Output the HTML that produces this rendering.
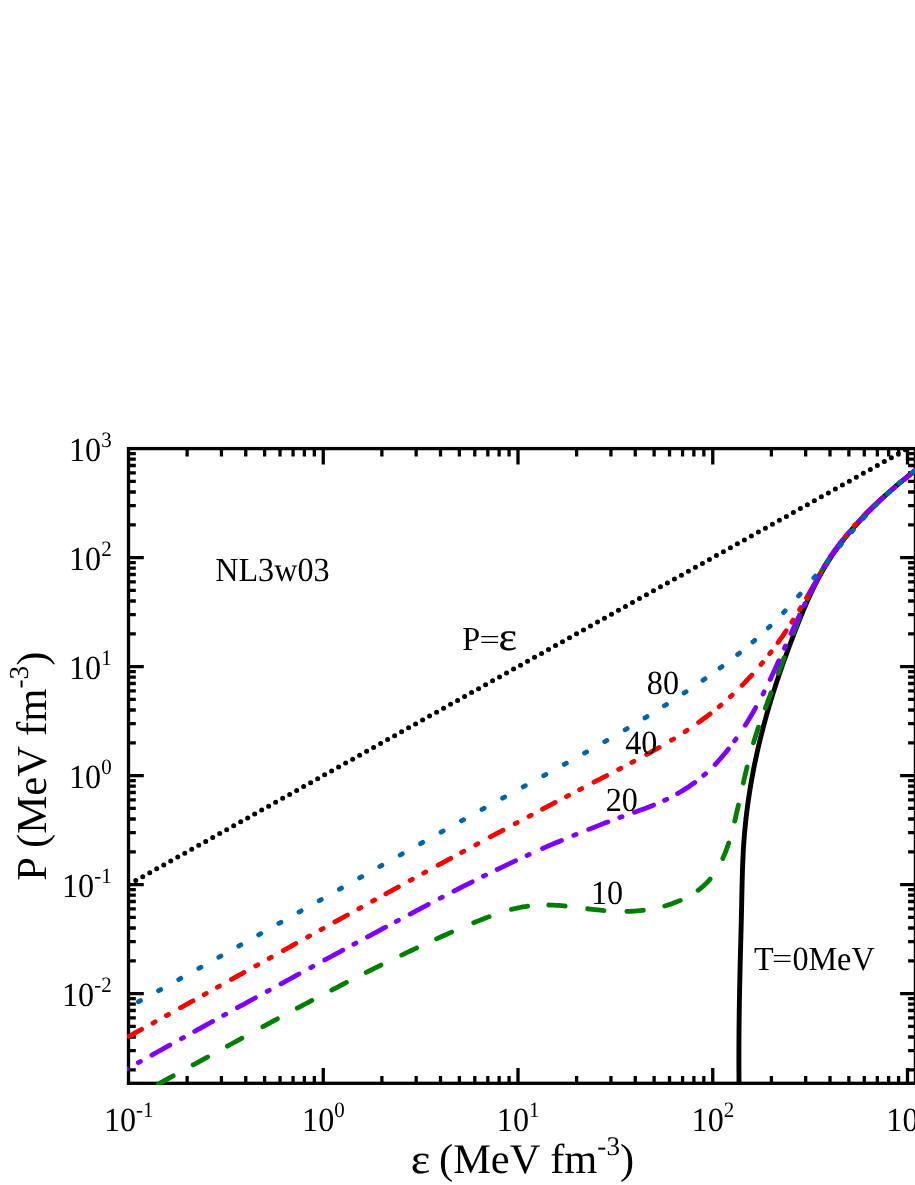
<!DOCTYPE html>
<html><head><meta charset="utf-8"><title>P vs epsilon</title>
<style>html,body{margin:0;padding:0;background:#fff}body{width:915px;height:1185px;overflow:hidden;position:relative;font-family:"Liberation Serif",serif}</style>
</head><body>
<svg width="915" height="1185" viewBox="0 0 915 1185" style="position:absolute;left:0;top:0;display:block;will-change:transform;text-rendering:geometricPrecision">
<rect width="915" height="1185" fill="#fff"/>
<defs><clipPath id="c"><rect x="126.90" y="447.00" width="790.10" height="637.90"/></clipPath></defs>
<g stroke="#000" fill="none" stroke-linecap="butt">
<rect x="128.50" y="448.60" width="786.90" height="634.70" stroke-width="3.30"/>
<path d="M187.13 1083.30v-7.30M187.13 448.60v7.90M221.42 1083.30v-7.30M221.42 448.60v7.90M245.75 1083.30v-7.30M245.75 448.60v7.90M264.62 1083.30v-7.30M264.62 448.60v7.90M280.04 1083.30v-7.30M280.04 448.60v7.90M293.08 1083.30v-7.30M293.08 448.60v7.90M304.38 1083.30v-7.30M304.38 448.60v7.90M314.34 1083.30v-7.30M314.34 448.60v7.90M323.25 1083.30v-15.30M323.25 448.60v15.90M381.88 1083.30v-7.30M381.88 448.60v7.90M416.17 1083.30v-7.30M416.17 448.60v7.90M440.50 1083.30v-7.30M440.50 448.60v7.90M459.37 1083.30v-7.30M459.37 448.60v7.90M474.79 1083.30v-7.30M474.79 448.60v7.90M487.83 1083.30v-7.30M487.83 448.60v7.90M499.13 1083.30v-7.30M499.13 448.60v7.90M509.09 1083.30v-7.30M509.09 448.60v7.90M518.00 1083.30v-15.30M518.00 448.60v15.90M576.63 1083.30v-7.30M576.63 448.60v7.90M610.92 1083.30v-7.30M610.92 448.60v7.90M635.25 1083.30v-7.30M635.25 448.60v7.90M654.12 1083.30v-7.30M654.12 448.60v7.90M669.54 1083.30v-7.30M669.54 448.60v7.90M682.58 1083.30v-7.30M682.58 448.60v7.90M693.88 1083.30v-7.30M693.88 448.60v7.90M703.84 1083.30v-7.30M703.84 448.60v7.90M712.75 1083.30v-15.30M712.75 448.60v15.90M771.38 1083.30v-7.30M771.38 448.60v7.90M805.67 1083.30v-7.30M805.67 448.60v7.90M830.00 1083.30v-7.30M830.00 448.60v7.90M848.87 1083.30v-7.30M848.87 448.60v7.90M864.29 1083.30v-7.30M864.29 448.60v7.90M877.33 1083.30v-7.30M877.33 448.60v7.90M888.63 1083.30v-7.30M888.63 448.60v7.90M898.59 1083.30v-7.30M898.59 448.60v7.90M907.50 1083.30v-15.30M907.50 448.60v15.90M128.50 1069.79h7.30M915.40 1069.79h-7.30M128.50 1050.59h7.30M915.40 1050.59h-7.30M128.50 1036.98h7.30M915.40 1036.98h-7.30M128.50 1026.41h7.30M915.40 1026.41h-7.30M128.50 1017.78h7.30M915.40 1017.78h-7.30M128.50 1010.48h7.30M915.40 1010.48h-7.30M128.50 1004.16h7.30M915.40 1004.16h-7.30M128.50 998.59h7.30M915.40 998.59h-7.30M128.50 993.60h15.30M915.40 993.60h-15.30M128.50 960.79h7.30M915.40 960.79h-7.30M128.50 941.59h7.30M915.40 941.59h-7.30M128.50 927.98h7.30M915.40 927.98h-7.30M128.50 917.41h7.30M915.40 917.41h-7.30M128.50 908.78h7.30M915.40 908.78h-7.30M128.50 901.48h7.30M915.40 901.48h-7.30M128.50 895.16h7.30M915.40 895.16h-7.30M128.50 889.59h7.30M915.40 889.59h-7.30M128.50 884.60h15.30M915.40 884.60h-15.30M128.50 851.79h7.30M915.40 851.79h-7.30M128.50 832.59h7.30M915.40 832.59h-7.30M128.50 818.98h7.30M915.40 818.98h-7.30M128.50 808.41h7.30M915.40 808.41h-7.30M128.50 799.78h7.30M915.40 799.78h-7.30M128.50 792.48h7.30M915.40 792.48h-7.30M128.50 786.16h7.30M915.40 786.16h-7.30M128.50 780.59h7.30M915.40 780.59h-7.30M128.50 775.60h15.30M915.40 775.60h-15.30M128.50 742.79h7.30M915.40 742.79h-7.30M128.50 723.59h7.30M915.40 723.59h-7.30M128.50 709.98h7.30M915.40 709.98h-7.30M128.50 699.41h7.30M915.40 699.41h-7.30M128.50 690.78h7.30M915.40 690.78h-7.30M128.50 683.48h7.30M915.40 683.48h-7.30M128.50 677.16h7.30M915.40 677.16h-7.30M128.50 671.59h7.30M915.40 671.59h-7.30M128.50 666.60h15.30M915.40 666.60h-15.30M128.50 633.79h7.30M915.40 633.79h-7.30M128.50 614.59h7.30M915.40 614.59h-7.30M128.50 600.98h7.30M915.40 600.98h-7.30M128.50 590.41h7.30M915.40 590.41h-7.30M128.50 581.78h7.30M915.40 581.78h-7.30M128.50 574.48h7.30M915.40 574.48h-7.30M128.50 568.16h7.30M915.40 568.16h-7.30M128.50 562.59h7.30M915.40 562.59h-7.30M128.50 557.60h15.30M915.40 557.60h-15.30M128.50 524.79h7.30M915.40 524.79h-7.30M128.50 505.59h7.30M915.40 505.59h-7.30M128.50 491.98h7.30M915.40 491.98h-7.30M128.50 481.41h7.30M915.40 481.41h-7.30M128.50 472.78h7.30M915.40 472.78h-7.30M128.50 465.48h7.30M915.40 465.48h-7.30M128.50 459.16h7.30M915.40 459.16h-7.30M128.50 453.59h7.30M915.40 453.59h-7.30" stroke-width="3.30"/>
</g>
<g clip-path="url(#c)" fill="none" stroke-linecap="round" stroke-linejoin="round">
<path d="M128.75 884.46h0.01M135.75 880.54h0.01M142.75 876.63h0.01M149.74 872.71h0.01M156.74 868.80h0.01M163.73 864.88h0.01M170.73 860.96h0.01M177.73 857.05h0.01M184.72 853.13h0.01M191.72 849.22h0.01M198.71 845.30h0.01M205.71 841.39h0.01M212.71 837.47h0.01M219.70 833.55h0.01M226.70 829.64h0.01M233.69 825.72h0.01M240.69 821.81h0.01M247.69 817.89h0.01M254.68 813.98h0.01M261.68 810.06h0.01M268.67 806.15h0.01M275.67 802.23h0.01M282.67 798.31h0.01M289.66 794.40h0.01M296.66 790.48h0.01M303.65 786.57h0.01M310.65 782.65h0.01M317.65 778.74h0.01M324.64 774.82h0.01M331.64 770.91h0.01M338.63 766.99h0.01M345.63 763.07h0.01M352.63 759.16h0.01M359.62 755.24h0.01M366.62 751.33h0.01M373.61 747.41h0.01M380.61 743.50h0.01M387.61 739.58h0.01M394.60 735.66h0.01M401.60 731.75h0.01M408.59 727.83h0.01M415.59 723.92h0.01M422.59 720.00h0.01M429.58 716.09h0.01M436.58 712.17h0.01M443.57 708.26h0.01M450.57 704.34h0.01M457.57 700.42h0.01M464.56 696.51h0.01M471.56 692.59h0.01M478.55 688.68h0.01M485.55 684.76h0.01M492.55 680.85h0.01M499.54 676.93h0.01M506.54 673.02h0.01M513.53 669.10h0.01M520.53 665.18h0.01M527.53 661.27h0.01M534.52 657.35h0.01M541.52 653.44h0.01M548.51 649.52h0.01M555.51 645.61h0.01M562.51 641.69h0.01M569.50 637.77h0.01M576.50 633.86h0.01M583.49 629.94h0.01M590.49 626.03h0.01M597.49 622.11h0.01M604.48 618.20h0.01M611.48 614.28h0.01M618.47 610.37h0.01M625.47 606.45h0.01M632.47 602.53h0.01M639.46 598.62h0.01M646.46 594.70h0.01M653.45 590.79h0.01M660.45 586.87h0.01M667.45 582.96h0.01M674.44 579.04h0.01M681.44 575.13h0.01M688.43 571.21h0.01M695.43 567.29h0.01M702.43 563.38h0.01M709.42 559.46h0.01M716.42 555.55h0.01M723.41 551.63h0.01M730.41 547.72h0.01M737.41 543.80h0.01M744.40 539.88h0.01M751.40 535.97h0.01M758.39 532.05h0.01M765.39 528.14h0.01M772.39 524.22h0.01M779.38 520.31h0.01M786.38 516.39h0.01M793.37 512.48h0.01M800.37 508.56h0.01M807.37 504.64h0.01M814.36 500.73h0.01M821.36 496.81h0.01M828.35 492.90h0.01M835.35 488.98h0.01M842.35 485.07h0.01M849.34 481.15h0.01M856.34 477.23h0.01M863.33 473.32h0.01M870.33 469.40h0.01M877.33 465.49h0.01M884.32 461.57h0.01M891.32 457.66h0.01M898.31 453.74h0.01M905.31 449.83h0.01M912.31 445.91h0.01M919.30 441.99h0.01" stroke="#000" stroke-width="5.00"/>
<path d="M739.10 1089.92L739.08 1088.58L739.07 1087.24L739.05 1085.89L739.04 1084.55L739.03 1083.21L739.01 1081.86L739.00 1080.52L738.99 1079.18L738.98 1077.83L738.97 1076.49L738.96 1075.14L738.96 1073.80L738.95 1072.45L738.94 1071.11L738.94 1069.76L738.93 1068.41L738.93 1067.07L738.92 1065.72L738.92 1064.37L738.92 1063.03L738.91 1061.68L738.91 1060.33L738.91 1058.98L738.91 1057.64L738.91 1056.29L738.91 1054.94L738.91 1053.59L738.92 1052.24L738.92 1050.89L738.92 1049.54L738.93 1048.19L738.93 1046.84L738.94 1045.49L738.94 1044.14L738.95 1042.79L738.96 1041.44L738.96 1040.09L738.97 1038.74L738.98 1037.39L738.99 1036.03L739.00 1034.68L739.01 1033.33L739.02 1031.98L739.03 1030.63L739.04 1029.27L739.06 1027.92L739.07 1026.57L739.08 1025.21L739.10 1023.86L739.11 1022.51L739.13 1021.15L739.14 1019.80L739.16 1018.45L739.18 1017.09L739.19 1015.74L739.21 1014.39L739.23 1013.03L739.25 1011.68L739.27 1010.32L739.29 1008.97L739.31 1007.61L739.33 1006.26L739.35 1004.90L739.37 1003.55L739.39 1002.19L739.41 1000.84L739.44 999.48L739.46 998.13L739.48 996.77L739.51 995.41L739.53 994.06L739.56 992.70L739.58 991.35L739.61 989.99L739.63 988.63L739.66 987.28L739.69 985.92L739.71 984.57L739.74 983.21L739.77 981.85L739.80 980.50L739.83 979.14L739.86 977.78L739.89 976.43L739.92 975.07L739.95 973.71L739.98 972.36L740.01 971.00L740.04 969.64L740.07 968.29L740.10 966.93L740.14 965.57L740.17 964.21L740.20 962.86L740.23 961.50L740.27 960.14L740.30 958.79L740.34 957.43L740.37 956.07L740.41 954.72L740.44 953.36L740.48 952.00L740.51 950.64L740.55 949.29L740.58 947.93L740.62 946.57L740.65 945.22L740.69 943.86L740.73 942.50L740.76 941.15L740.80 939.79L740.83 938.43L740.87 937.08L740.90 935.72L740.94 934.36L740.97 933.01L741.01 931.65L741.05 930.29L741.08 928.94L741.11 927.58L741.15 926.22L741.18 924.87L741.22 923.51L741.25 922.16L741.28 920.80L741.32 919.44L741.35 918.09L741.38 916.73L741.41 915.38L741.44 914.02L741.48 912.67L741.51 911.31L741.54 909.96L741.56 908.60L741.59 907.25L741.62 905.89L741.65 904.54L741.68 903.18L741.71 901.83L741.73 900.47L741.76 899.12L741.79 897.77L741.81 896.41L741.84 895.06L741.87 893.70L741.90 892.35L741.93 891.00L741.96 889.64L741.99 888.29L742.02 886.94L742.05 885.59L742.08 884.23L742.11 882.88L742.15 881.53L742.18 880.18L742.22 878.83L742.25 877.47L742.29 876.12L742.33 874.77L742.37 873.42L742.41 872.07L742.46 870.72L742.50 869.37L742.55 868.02L742.60 866.67L742.65 865.32L742.70 863.97L742.75 862.62L742.81 861.27L742.87 859.92L742.93 858.57L742.99 857.23L743.05 855.88L743.12 854.53L743.19 853.18L743.26 851.83L743.34 850.49L743.41 849.14L743.49 847.79L743.58 846.45L743.66 845.10L743.75 843.76L743.84 842.41L743.94 841.06L744.04 839.72L744.14 838.37L744.24 837.03L744.35 835.69L744.46 834.34L744.58 833.00L744.69 831.66L744.81 830.31L744.94 828.97L745.06 827.63L745.19 826.28L745.33 824.94L745.46 823.60L745.60 822.26L745.75 820.92L745.89 819.58L746.04 818.24L746.19 816.90L746.35 815.56L746.51 814.22L746.67 812.88L746.83 811.54L747.00 810.20L747.17 808.87L747.35 807.53L747.52 806.19L747.70 804.86L747.88 803.52L748.07 802.18L748.26 800.85L748.45 799.51L748.65 798.18L748.84 796.84L749.05 795.51L749.25 794.17L749.46 792.84L749.67 791.51L749.88 790.17L750.09 788.84L750.31 787.51L750.53 786.18L750.76 784.85L750.98 783.52L751.22 782.19L751.45 780.86L751.68 779.53L751.92 778.20L752.16 776.87L752.41 775.54L752.66 774.21L752.91 772.89L753.16 771.56L753.42 770.23L753.67 768.91L753.94 767.58L754.20 766.26L754.47 764.93L754.74 763.61L755.01 762.29L755.28 760.96L755.56 759.64L755.84 758.32L756.13 757.00L756.41 755.67L756.70 754.35L756.99 753.03L757.29 751.71L757.58 750.39L757.88 749.07L758.19 747.76L758.49 746.44L758.80 745.12L759.11 743.80L759.42 742.49L759.74 741.17L760.06 739.86L760.38 738.54L760.70 737.23L761.03 735.91L761.36 734.60L761.69 733.29L762.02 731.97L762.36 730.66L762.70 729.35L763.04 728.04L763.38 726.73L763.73 725.42L764.08 724.11L764.43 722.80L764.78 721.50L765.14 720.19L765.50 718.88L765.86 717.58L766.23 716.27L766.59 714.97L766.96 713.66L767.33 712.36L767.71 711.05L768.08 709.75L768.46 708.45L768.84 707.15L769.23 705.85L769.61 704.55L770.00 703.25L770.39 701.95L770.79 700.65L771.18 699.35L771.58 698.05L771.98 696.76L772.38 695.46L772.79 694.17L773.19 692.87L773.60 691.58L774.02 690.28L774.43 688.99L774.85 687.70L775.26 686.41L775.68 685.12L776.11 683.82L776.53 682.53L776.96 681.25L777.39 679.96L777.82 678.67L778.25 677.38L778.68 676.10L779.12 674.81L779.56 673.52L780.00 672.24L780.44 670.96L780.89 669.67L781.33 668.39L781.78 667.11L782.23 665.83L782.68 664.55L783.13 663.26L783.59 661.99L784.04 660.71L784.50 659.43L784.96 658.15L785.42 656.87L785.89 655.60L786.35 654.32L786.81 653.05L787.28 651.77L787.75 650.50L788.22 649.23L788.69 647.95L789.16 646.68L789.64 645.41L790.11 644.14L790.59 642.87L791.07 641.60L791.55 640.33L792.03 639.07L792.51 637.80L792.99 636.53L793.48 635.27L793.96 634.00L794.45 632.74L794.94 631.47L795.43 630.21L795.92 628.95L796.41 627.69L796.90 626.43L797.39 625.17L797.89 623.91L798.39 622.65L798.89 621.39L799.39 620.14L799.89 618.88L800.39 617.63L800.90 616.38L801.41 615.13L801.92 613.88L802.44 612.63L802.96 611.39L803.48 610.14L804.00 608.90L804.52 607.66L805.05 606.42L805.59 605.18L806.12 603.94L806.66 602.71L807.20 601.48L807.75 600.25L808.30 599.02L808.85 597.79L809.41 596.57L809.97 595.34L810.53 594.12L811.10 592.91L811.68 591.69L812.25 590.48L812.84 589.27L813.42 588.06L814.01 586.85L814.61 585.65L815.21 584.45L815.82 583.25L816.43 582.06L817.04 580.87L817.67 579.68L818.29 578.49L818.93 577.31L819.56 576.13L820.21 574.95L820.86 573.77L821.51 572.60L822.17 571.44L822.84 570.27L823.52 569.11L824.20 567.95L824.88 566.80L825.58 565.65L826.28 564.50L826.98 563.36L827.70 562.21L828.41 561.08L829.14 559.94L829.87 558.82L830.61 557.69L831.35 556.57L832.10 555.45L832.86 554.33L833.62 553.22L834.39 552.11L835.17 551.01L835.95 549.90L836.73 548.81L837.52 547.71L838.32 546.62L839.13 545.53L839.93 544.45L840.75 543.37L841.57 542.29L842.39 541.22L843.22 540.15L844.06 539.08L844.90 538.02L845.74 536.96L846.59 535.91L847.45 534.85L848.31 533.81L849.17 532.76L850.04 531.72L850.92 530.68L851.80 529.65L852.68 528.62L853.57 527.59L854.47 526.56L855.36 525.54L856.26 524.53L857.17 523.51L858.08 522.50L859.00 521.50L859.92 520.49L860.84 519.50L861.77 518.50L862.70 517.51L863.63 516.52L864.57 515.53L865.51 514.55L866.46 513.57L867.41 512.60L868.36 511.63L869.32 510.66L870.28 509.70L871.24 508.74L872.21 507.78L873.18 506.83L874.15 505.88L875.13 504.93L876.11 503.99L877.09 503.05L878.08 502.11L879.07 501.18L880.06 500.25L881.05 499.32L882.05 498.40L883.05 497.48L884.05 496.57L885.06 495.66L886.07 494.75L887.08 493.84L888.09 492.94L889.10 492.05L890.12 491.15L891.14 490.26L892.16 489.37L893.18 488.49L894.21 487.60L895.24 486.73L896.27 485.85L897.30 484.98L898.33 484.11L899.36 483.24L900.40 482.38L901.44 481.52L902.48 480.66L903.52 479.81L904.56 478.96L905.60 478.11L906.65 477.26L907.69 476.42L908.74 475.58L909.79 474.75L910.84 473.91L911.89 473.08L912.94 472.26L913.99 471.43L915.05 470.61L916.10 469.79L917.15 468.97L918.21 468.16L919.26 467.35" stroke="#000" stroke-width="4.90"/>
<path d="M158.76 1083.76L160.91 1082.59L163.16 1081.36L165.41 1080.14L167.66 1078.91L169.91 1077.68L172.16 1076.45L173.24 1075.86M193.14 1064.95L195.25 1063.79L197.49 1062.56L199.73 1061.33L201.98 1060.10L204.22 1058.86L206.46 1057.63L207.61 1057.00M227.39 1046.14L229.50 1044.98L231.74 1043.75L233.98 1042.52L236.22 1041.30L238.46 1040.07L240.70 1038.84L241.86 1038.21M262.91 1026.73L265.03 1025.57L267.27 1024.36L269.52 1023.14L271.76 1021.93L274.01 1020.71L276.25 1019.50L277.42 1018.87M297.24 1008.23L299.37 1007.09L301.63 1005.89L303.88 1004.69L306.13 1003.50L308.39 1002.30L310.64 1001.11L311.81 1000.49M331.75 990.05L333.90 988.93L336.16 987.76L338.43 986.59L340.70 985.42L342.97 984.25L345.24 983.09L346.42 982.48M366.20 972.46L368.36 971.38L370.64 970.24L372.93 969.10L375.22 967.97L377.52 966.83L379.81 965.70L380.98 965.12M401.67 955.09L403.83 954.05L406.14 952.95L408.46 951.86L410.78 950.76L413.10 949.67L415.42 948.58L416.59 948.03M436.59 938.83L438.75 937.86L441.10 936.80L443.44 935.75L445.79 934.70L448.14 933.66L450.50 932.62L451.66 932.11M473.71 922.72L475.90 921.83L478.29 920.87L480.68 919.91L483.08 918.97L485.48 918.04L487.88 917.12L489.06 916.67M511.45 909.41L514.23 908.71L517.03 908.07L519.84 907.49L522.65 906.97L525.47 906.52L527.62 906.22M548.69 905.02L551.15 905.07L553.68 905.16L556.21 905.29L558.75 905.45L561.29 905.65L563.84 905.88L565.16 906.01M587.61 908.75L589.90 909.03L592.48 909.35L595.06 909.65L597.64 909.93L600.23 910.19L602.81 910.43L604.01 910.54M626.87 911.40L629.27 911.34L631.83 911.24L634.38 911.10L636.93 910.92L639.47 910.70L642.00 910.44L643.32 910.28M664.77 905.96L667.01 905.30L669.47 904.51L671.92 903.68L674.37 902.79L676.80 901.85L679.21 900.85L680.29 900.38M698.07 890.32L700.03 888.84L702.00 887.23L703.91 885.56L705.74 883.83L707.50 882.03L709.19 880.18L710.12 879.10M722.81 858.43L723.77 856.25L724.76 853.88L725.71 851.50L726.62 849.09L727.49 846.67L728.32 844.23L728.71 843.03M734.73 821.12L735.27 818.86L735.85 816.33L736.43 813.81L737.00 811.29L737.57 808.77L738.13 806.25L738.40 805.04M743.32 782.95L743.86 780.57L744.42 778.09L745.00 775.62L745.58 773.14L746.16 770.67L746.75 768.21L747.07 766.89M753.49 742.85L754.19 740.53L754.93 738.09L755.69 735.66L756.47 733.23L757.27 730.80L758.09 728.37L758.51 727.13M765.33 708.13L766.15 705.90L767.05 703.49L767.94 701.09L768.84 698.68L769.73 696.27L770.62 693.87L771.07 692.66M778.27 673.20L779.11 670.93L780.00 668.54L780.89 666.15L781.78 663.76L782.67 661.37L783.56 658.98L784.03 657.73M793.33 633.30L794.20 631.06L795.13 628.68L796.07 626.30L797.01 623.92L797.96 621.54L798.91 619.16L799.40 617.96M807.44 598.97L810.66 591.96L814.17 584.74L817.86 577.61L821.75 570.61L825.87 563.74L830.23 557.01L830.90 556.03M843.34 539.25L843.68 538.83L844.14 538.26L844.60 537.70L845.06 537.13L845.53 536.57L845.87 536.15M887.12 494.12L887.15 494.09L887.42 493.85L887.69 493.61L887.97 493.37L888.24 493.12L888.51 492.88L888.78 492.64L889.06 492.40L889.33 492.16L889.37 492.13" stroke="#008000" stroke-width="4.80"/>
<path d="M129.14 1036.22L130.92 1035.24L132.98 1034.10L135.04 1032.96L137.09 1031.82L139.15 1030.68L141.21 1029.54L141.65 1029.30M152.98 1023.02L153.26 1022.87L153.55 1022.70L153.85 1022.54L154.14 1022.38L154.44 1022.21L154.73 1022.05L155.02 1021.89L155.08 1021.86M166.36 1015.60L166.48 1015.53L166.77 1015.37L167.06 1015.21L167.36 1015.04L167.65 1014.88L167.95 1014.72L168.24 1014.56L168.46 1014.43M180.48 1007.76L182.33 1006.73L184.38 1005.59L186.43 1004.45L188.49 1003.31L190.54 1002.16L192.59 1001.02L192.98 1000.81M204.15 994.59L204.32 994.50L204.62 994.34L204.91 994.17L205.20 994.01L205.50 993.85L205.79 993.68L206.08 993.52L206.25 993.43M217.34 987.26L217.51 987.16L217.81 987.00L218.10 986.84L218.39 986.67L218.68 986.51L218.98 986.35L219.27 986.18L219.44 986.09M231.48 979.39L233.33 978.36L235.39 977.21L237.44 976.07L239.49 974.93L241.54 973.79L243.59 972.65L243.98 972.43M255.72 965.90L255.89 965.80L256.18 965.64L256.47 965.48L256.77 965.32L257.06 965.15L257.35 964.99L257.65 964.83L257.82 964.73M269.19 958.40L269.36 958.31L269.65 958.15L269.94 957.98L270.24 957.82L270.53 957.66L270.82 957.50L271.12 957.33L271.29 957.24M283.31 950.55L285.17 949.52L287.22 948.38L289.27 947.24L291.32 946.10L293.37 944.96L295.42 943.82L295.81 943.60M307.55 937.09L307.72 936.99L308.01 936.83L308.30 936.67L308.60 936.51L308.89 936.34L309.18 936.18L309.47 936.02L309.65 935.92M321.02 929.62L321.19 929.52L321.48 929.36L321.78 929.20L322.07 929.03L322.36 928.87L322.65 928.71L322.95 928.55L323.12 928.45M334.86 921.95L336.72 920.92L338.77 919.78L340.82 918.65L342.87 917.51L344.92 916.38L346.97 915.25L347.37 915.03M358.82 908.70L358.99 908.61L359.28 908.45L359.58 908.28L359.87 908.12L360.16 907.96L360.46 907.80L360.75 907.64L360.92 907.54M372.60 901.10L372.77 901.01L373.06 900.85L373.36 900.68L373.65 900.52L373.94 900.36L374.24 900.20L374.53 900.04L374.70 899.94M385.87 893.80L387.73 892.77L389.79 891.64L391.84 890.52L393.90 889.39L395.95 888.26L398.01 887.13L398.40 886.91M410.17 880.46L410.34 880.37L410.64 880.21L410.93 880.05L411.23 879.89L411.52 879.73L411.81 879.57L412.11 879.41L412.28 879.31M423.69 873.07L423.86 872.98L424.16 872.82L424.45 872.66L424.75 872.50L425.04 872.34L425.33 872.18L425.63 872.02L425.80 871.92M438.18 865.18L440.04 864.16L442.10 863.04L444.16 861.92L446.22 860.80L448.29 859.68L450.35 858.56L450.74 858.35M461.67 852.43L461.84 852.33L462.13 852.17L462.43 852.02L462.72 851.86L463.02 851.70L463.31 851.54L463.61 851.38L463.78 851.28M475.82 844.78L475.99 844.69L476.29 844.53L476.58 844.37L476.88 844.21L477.17 844.05L477.47 843.89L477.76 843.73L477.93 843.64M490.36 836.95L492.23 835.95L494.30 834.84L496.37 833.73L498.44 832.62L500.51 831.51L502.58 830.40L502.97 830.19M515.13 823.69L515.30 823.60L515.60 823.44L515.89 823.29L516.19 823.13L516.48 822.97L516.78 822.81L517.08 822.65L517.25 822.56M529.05 816.28L529.22 816.19L529.52 816.03L529.82 815.88L530.11 815.72L530.41 815.56L530.71 815.40L531.00 815.25L531.17 815.16M542.49 809.16L544.35 808.18L546.43 807.08L548.51 805.98L550.59 804.88L552.67 803.79L554.75 802.69L555.13 802.49M566.48 796.53L566.65 796.44L566.95 796.29L567.24 796.13L567.54 795.97L567.84 795.82L568.14 795.66L568.43 795.51L568.60 795.42M579.58 789.68L579.75 789.59L580.05 789.43L580.35 789.28L580.65 789.12L580.95 788.97L581.24 788.81L581.54 788.65L581.71 788.57M594.00 782.18L595.86 781.21L597.96 780.12L600.05 779.04L602.14 777.96L604.23 776.88L606.32 775.79L606.70 775.60M618.70 769.38L618.87 769.29L619.17 769.14L619.47 768.98L619.77 768.82L620.07 768.67L620.36 768.51L620.66 768.36L620.83 768.27M631.80 762.50L631.97 762.41L632.27 762.26L632.57 762.10L632.86 761.94L633.16 761.78L633.46 761.62L633.75 761.47L633.92 761.38M646.65 754.49L648.51 753.47L650.56 752.33L652.61 751.18L654.66 750.03L656.69 748.87L658.73 747.71L659.12 747.48M671.52 740.16L671.69 740.06L671.98 739.89L672.26 739.71L672.55 739.54L672.83 739.37L673.12 739.19L673.40 739.02L673.57 738.91M685.07 731.64L685.24 731.53L685.52 731.34L685.80 731.16L686.08 730.98L686.36 730.79L686.64 730.61L686.91 730.43L687.08 730.32M698.60 722.42L700.35 721.16L702.23 719.80L704.11 718.41L705.98 717.02L707.84 715.61L709.69 714.19L710.07 713.89M719.15 706.59L719.30 706.46L719.55 706.25L719.81 706.03L720.06 705.82L720.32 705.60L720.57 705.39L720.83 705.17L720.98 705.04M730.44 696.65L730.59 696.52L730.83 696.29L731.08 696.06L731.32 695.84L731.57 695.61L731.81 695.38L732.06 695.15L732.20 695.02M742.07 685.36L743.54 683.86L745.17 682.16L746.79 680.45L748.40 678.73L750.00 677.00L751.59 675.26L751.87 674.95M760.97 664.48L761.09 664.33L761.31 664.08L761.53 663.82L761.74 663.56L761.96 663.30L762.17 663.04L762.39 662.78L762.51 662.63M769.64 653.72L769.76 653.57L769.97 653.31L770.17 653.04L770.38 652.77L770.58 652.51L770.79 652.24L770.99 651.97L771.11 651.82M777.98 642.59L779.21 640.88L780.57 638.96L781.93 637.04L783.27 635.10L784.59 633.16L785.91 631.22L786.15 630.86M791.86 622.13L791.96 621.97L792.14 621.68L792.32 621.40L792.50 621.12L792.68 620.84L792.85 620.55L793.03 620.27L793.14 620.10M799.54 609.63L799.65 609.46L799.82 609.18L799.99 608.89L800.16 608.60L800.33 608.32L800.50 608.03L800.67 607.75L800.77 607.57M806.46 597.86L807.55 595.98L808.71 593.97L809.87 591.96L811.03 589.95L812.19 587.93L813.35 585.92L813.61 585.48M819.27 575.80L819.37 575.62L819.54 575.33L819.71 575.05L819.88 574.76L820.05 574.48L820.22 574.19L820.39 573.91L820.49 573.73M825.95 564.73L826.06 564.55L826.24 564.27L826.41 563.99L826.59 563.71L826.76 563.43L826.94 563.15L827.12 562.87L827.22 562.69M833.43 553.11L834.17 552.00L835.11 550.62L836.05 549.25L837.00 547.88L837.96 546.52L838.93 545.16L839.12 544.89M845.85 535.92L845.97 535.78L846.18 535.51L846.39 535.25L846.60 534.98L846.81 534.72L847.02 534.46L847.23 534.19L847.34 534.05M854.31 525.78L854.43 525.64L854.66 525.39L854.88 525.13L855.11 524.88L855.34 524.62L855.56 524.37L855.79 524.12L855.91 523.98M863.72 515.64L866.14 513.18L868.82 510.52L871.53 507.89L874.26 505.29L877.01 502.72L879.56 500.38M915.70 470.20L915.89 470.05L916.14 469.86L916.38 469.66L916.63 469.47L916.88 469.28L917.13 469.08L917.38 468.89L917.63 468.70L917.88 468.50L918.07 468.36" stroke="#ff0000" stroke-width="4.80"/>
<path d="M117.54 1074.21L119.05 1073.37L120.56 1072.52L122.08 1071.68L123.59 1070.84L125.11 1069.99L126.62 1069.15L126.90 1068.99M138.30 1062.64L138.44 1062.56L138.74 1062.40L139.04 1062.23L139.35 1062.06L139.65 1061.89L139.95 1061.72L140.26 1061.55L140.40 1061.47M151.92 1055.06L154.81 1053.45L157.84 1051.77L160.88 1050.08L163.91 1048.40L166.95 1046.71L169.84 1045.10M181.38 1038.70L181.52 1038.63L181.82 1038.46L182.12 1038.29L182.43 1038.12L182.73 1037.95L183.03 1037.79L183.34 1037.62L183.48 1037.54M194.72 1031.31L197.61 1029.71L200.65 1028.03L203.69 1026.35L206.73 1024.67L209.77 1022.99L212.66 1021.39M223.62 1015.34L223.76 1015.27L224.06 1015.10L224.37 1014.93L224.67 1014.76L224.97 1014.59L225.28 1014.43L225.58 1014.26L225.72 1014.18M237.45 1007.72L240.19 1006.21L243.23 1004.54L246.28 1002.87L249.32 1001.19L252.36 999.52L255.41 997.85L255.41 997.85M267.15 991.41L267.29 991.33L267.59 991.16L267.90 991.00L268.20 990.83L268.51 990.66L268.81 990.50L269.12 990.33L269.26 990.25M281.00 983.82L283.75 982.32L286.80 980.66L289.84 978.99L292.89 977.33L295.94 975.66L298.99 974.00L298.99 974.00M310.75 967.60L310.89 967.52L311.20 967.36L311.50 967.19L311.81 967.02L312.11 966.86L312.42 966.69L312.72 966.53L312.86 966.45M324.77 959.98L327.68 958.40L330.73 956.75L333.79 955.09L336.84 953.44L339.89 951.79L342.80 950.22M353.81 944.27L353.95 944.20L354.25 944.03L354.56 943.87L354.86 943.70L355.17 943.54L355.48 943.37L355.78 943.21L355.92 943.13M367.54 936.88L370.45 935.31L373.51 933.67L376.57 932.02L379.63 930.38L382.69 928.74L385.60 927.18M396.31 921.45L396.45 921.37L396.76 921.21L397.06 921.05L397.37 920.88L397.68 920.72L397.98 920.56L398.29 920.39L398.43 920.32M410.21 914.04L412.98 912.56L416.04 910.94L419.11 909.31L422.17 907.69L425.24 906.07L428.31 904.45L428.32 904.45M440.14 898.25L440.29 898.17L440.59 898.01L440.90 897.85L441.21 897.69L441.52 897.53L441.82 897.37L442.13 897.21L442.27 897.14M453.97 891.08L456.92 889.57L460.00 887.99L463.09 886.41L466.18 884.84L469.28 883.27L472.24 881.78M483.41 876.21L483.55 876.14L483.86 875.98L484.17 875.83L484.48 875.68L484.79 875.52L485.11 875.37L485.42 875.21L485.56 875.14M497.11 869.50L500.08 868.07L503.21 866.56L506.35 865.07L509.49 863.58L512.63 862.10L515.62 860.70M527.00 855.45L527.15 855.39L527.46 855.24L527.78 855.10L528.10 854.95L528.41 854.81L528.73 854.67L529.05 854.52L529.19 854.46M542.59 848.48L545.59 847.17L548.79 845.79L552.00 844.41L555.21 843.04L558.42 841.68L561.44 840.42M573.77 835.35L573.91 835.29L574.24 835.16L574.56 835.03L574.88 834.89L575.21 834.76L575.53 834.63L575.85 834.50L576.00 834.44M588.69 829.37L591.74 828.17L594.99 826.90L598.23 825.63L601.48 824.37L604.72 823.11L607.79 821.94M619.79 817.45L619.95 817.39L620.27 817.27L620.59 817.15L620.92 817.04L621.24 816.92L621.56 816.80L621.89 816.69L622.05 816.63M634.44 812.24L637.35 811.20L640.56 810.05L643.77 808.88L646.96 807.69L650.15 806.46L653.34 805.20L653.65 805.08M664.59 800.31L664.73 800.25L665.05 800.10L665.36 799.95L665.68 799.80L665.99 799.65L666.31 799.50L666.62 799.35L666.76 799.28M677.57 793.58L680.29 792.00L683.02 790.35L685.73 788.65L688.40 786.90L691.04 785.10L693.63 783.26L694.76 782.44M703.71 775.33L703.83 775.22L704.09 775.00L704.36 774.77L704.62 774.54L704.88 774.31L705.14 774.08L705.40 773.86L705.52 773.75M715.04 764.53L717.37 762.05L719.66 759.51L721.91 756.93L724.13 754.31L726.32 751.66L728.43 749.02M734.64 740.82L734.73 740.69L734.93 740.41L735.14 740.13L735.34 739.85L735.54 739.57L735.74 739.28L735.95 739.00L736.04 738.87M745.23 725.23L746.96 722.48L748.80 719.50L750.60 716.50L752.37 713.49L754.12 710.46L755.72 707.63M763.01 694.00L763.08 693.86L763.24 693.55L763.40 693.24L763.55 692.93L763.71 692.62L763.87 692.31L764.03 692.00L764.10 691.86M770.18 679.42L771.60 676.41L773.07 673.27L774.51 670.13L775.95 666.99L777.38 663.84L778.75 660.80M784.37 648.21L784.44 648.06L784.58 647.75L784.72 647.43L784.86 647.12L785.00 646.80L785.14 646.48L785.28 646.17L785.35 646.02M790.91 633.67L792.28 630.68L793.73 627.52L795.20 624.36L796.68 621.20L798.16 618.05L799.57 615.09M804.10 605.60L804.17 605.46L804.32 605.15L804.47 604.84L804.62 604.52L804.77 604.21L804.93 603.90L805.08 603.58L805.14 603.44M809.71 594.06L811.17 591.08L812.72 587.98L814.28 584.88L815.86 581.80L817.46 578.73L819.02 575.80M823.55 567.68L823.63 567.54L823.80 567.24L823.98 566.94L824.15 566.65L824.32 566.35L824.50 566.05L824.68 565.75L824.76 565.61M830.41 556.53L832.25 553.78L834.22 550.93L836.25 548.12L838.35 545.34L840.49 542.59L842.55 540.03M848.48 533.04L848.58 532.93L848.81 532.67L849.04 532.41L849.27 532.14L849.51 531.88L849.74 531.62L849.97 531.36L850.07 531.25M859.24 521.32L863.07 517.33L866.92 513.37L870.80 509.46L874.70 505.59L878.64 501.78L882.65 498.01L883.21 497.49M891.96 489.69L892.23 489.46L892.76 489.01L893.29 488.55L893.82 488.10L894.36 487.64L894.62 487.42M903.92 479.72L905.68 478.28L907.57 476.73L909.45 475.19L911.33 473.65L913.19 472.11L915.04 470.56L915.49 470.18" stroke="#8000ff" stroke-width="4.80"/>
<path d="M118.09 1012.88L118.24 1012.79L118.53 1012.64L118.82 1012.48L119.11 1012.33L119.39 1012.17L119.68 1012.01L119.97 1011.86L120.20 1011.73M138.45 1001.76L138.64 1001.65L138.93 1001.50L139.21 1001.34L139.50 1001.18L139.79 1001.03L140.08 1000.87L140.36 1000.71L140.55 1000.61M158.60 990.68L158.71 990.62L159.00 990.46L159.28 990.31L159.57 990.15L159.86 989.99L160.14 989.83L160.43 989.67L160.71 989.52M178.73 979.55L178.74 979.54L179.03 979.38L179.31 979.23L179.60 979.07L179.88 978.91L180.17 978.75L180.46 978.59L180.74 978.43L180.83 978.38M198.83 968.37L199.03 968.27L199.31 968.11L199.60 967.95L199.88 967.79L200.17 967.63L200.45 967.47L200.74 967.31L200.93 967.20M218.80 957.23L219.00 957.11L219.28 956.96L219.57 956.80L219.85 956.64L220.14 956.48L220.42 956.32L220.71 956.16L220.89 956.05M238.74 946.05L238.94 945.94L239.23 945.78L239.51 945.62L239.80 945.46L240.08 945.30L240.37 945.14L240.65 944.98L240.84 944.87M258.68 934.84L258.87 934.73L259.15 934.57L259.44 934.41L259.72 934.25L260.01 934.09L260.29 933.93L260.58 933.77L260.77 933.66M278.87 923.46L279.07 923.35L279.35 923.19L279.63 923.03L279.92 922.87L280.20 922.71L280.49 922.55L280.77 922.39L280.96 922.29M299.06 912.07L299.25 911.96L299.54 911.80L299.82 911.64L300.10 911.48L300.39 911.32L300.67 911.16L300.96 911.00L301.15 910.89M319.24 900.68L319.43 900.57L319.72 900.41L320.00 900.25L320.29 900.09L320.57 899.93L320.85 899.77L321.14 899.60L321.33 899.50M339.42 889.28L339.61 889.17L339.90 889.01L340.18 888.85L340.47 888.69L340.75 888.53L341.03 888.37L341.32 888.21L341.51 888.10M359.61 877.89L359.80 877.78L360.08 877.62L360.37 877.46L360.65 877.30L360.93 877.14L361.22 876.98L361.50 876.82L361.70 876.71M379.80 866.51L379.99 866.40L380.27 866.24L380.56 866.08L380.84 865.92L381.13 865.76L381.41 865.60L381.70 865.44L381.89 865.33M400.20 855.04L400.48 854.88L400.76 854.72L401.05 854.56L401.33 854.40L401.62 854.24L401.90 854.08L402.19 853.92L402.29 853.87M420.61 843.60L420.70 843.54L420.99 843.38L421.27 843.22L421.56 843.07L421.84 842.91L422.13 842.75L422.41 842.59L422.70 842.43L422.71 842.42M441.04 832.18L441.24 832.08L441.52 831.92L441.81 831.76L442.09 831.60L442.38 831.44L442.66 831.28L442.95 831.12L443.14 831.01M461.52 820.80L461.80 820.64L462.08 820.49L462.37 820.33L462.66 820.17L462.94 820.01L463.23 819.85L463.51 819.69L463.62 819.64M482.02 809.46L482.11 809.41L482.39 809.25L482.68 809.10L482.97 808.94L483.25 808.78L483.54 808.62L483.82 808.46L484.11 808.31L484.12 808.30M502.55 798.17L502.74 798.07L503.03 797.91L503.31 797.75L503.60 797.60L503.89 797.44L504.17 797.28L504.46 797.13L504.65 797.02M523.22 786.88L523.41 786.77L523.70 786.61L523.98 786.46L524.27 786.30L524.56 786.14L524.84 785.99L525.13 785.83L525.32 785.73M543.75 775.66L543.80 775.63L544.09 775.47L544.37 775.32L544.66 775.16L544.95 775.00L545.23 774.85L545.52 774.69L545.81 774.53L545.86 774.51M564.26 764.39L564.45 764.28L564.73 764.12L565.02 763.97L565.31 763.81L565.59 763.65L565.88 763.49L566.17 763.33L566.36 763.23M584.55 753.09L584.75 752.99L585.03 752.83L585.32 752.67L585.60 752.50L585.89 752.34L586.17 752.18L586.46 752.02L586.64 751.92M604.75 741.64L604.94 741.53L605.23 741.37L605.51 741.20L605.79 741.04L606.08 740.88L606.36 740.72L606.64 740.55L606.83 740.44M625.10 729.81L625.29 729.70L625.57 729.53L625.85 729.37L626.13 729.20L626.41 729.03L626.69 728.87L626.97 728.70L627.16 728.59M644.99 717.88L645.17 717.77L645.45 717.60L645.73 717.42L646.01 717.25L646.29 717.08L646.57 716.91L646.85 716.74L647.03 716.63M664.39 705.81L664.58 705.69L664.86 705.51L665.13 705.34L665.41 705.16L665.68 704.99L665.96 704.81L666.23 704.64L666.42 704.52M684.11 693.02L684.29 692.89L684.57 692.71L684.84 692.53L685.11 692.35L685.38 692.17L685.65 691.99L685.92 691.81L686.11 691.69M703.00 680.16L703.18 680.04L703.45 679.85L703.72 679.66L703.99 679.48L704.25 679.29L704.52 679.10L704.79 678.92L704.97 678.79M720.00 668.00L720.17 667.87L720.44 667.68L720.70 667.48L720.96 667.29L721.22 667.09L721.49 666.90L721.75 666.71L721.93 666.57M737.63 654.53L737.80 654.40L738.06 654.19L738.31 653.99L738.57 653.79L738.82 653.58L739.08 653.38L739.33 653.18L739.50 653.04M752.94 641.87L753.11 641.72L753.36 641.51L753.60 641.29L753.85 641.08L754.09 640.87L754.34 640.65L754.59 640.44L754.75 640.29M768.37 627.86L768.53 627.71L768.76 627.48L769.00 627.26L769.23 627.03L769.47 626.81L769.70 626.58L769.94 626.36L770.10 626.20M783.50 612.59L783.65 612.43L783.87 612.20L784.10 611.96L784.32 611.72L784.54 611.48L784.77 611.24L784.99 611.01L785.14 610.84M798.61 595.89L798.75 595.72L798.97 595.48L799.18 595.23L799.40 594.98L799.61 594.74L799.82 594.49L800.04 594.24L800.18 594.08M813.84 577.91L813.98 577.75L814.19 577.49L814.40 577.24L814.61 576.99L814.81 576.74L815.02 576.48L815.23 576.23L815.37 576.06M826.91 561.94L827.05 561.77L827.26 561.52L827.46 561.27L827.67 561.01L827.88 560.76L828.08 560.50L828.29 560.25L828.43 560.08M839.93 545.94L840.07 545.77L840.27 545.52L840.48 545.27L840.69 545.02L840.90 544.76L841.10 544.51L841.31 544.26L841.45 544.09M851.84 531.62L851.98 531.45L852.19 531.20L852.40 530.95L852.61 530.70L852.82 530.45L853.04 530.20L853.25 529.95L853.39 529.79M863.61 518.07L863.76 517.91L863.97 517.67L864.19 517.42L864.41 517.18L864.63 516.94L864.85 516.70L865.06 516.46L865.21 516.29M874.90 505.89L875.06 505.73L875.29 505.50L875.51 505.26L875.74 505.03L875.96 504.80L876.19 504.56L876.42 504.33L876.57 504.17M887.40 493.51L887.56 493.36L887.80 493.14L888.04 492.91L888.28 492.69L888.51 492.47L888.75 492.25L888.99 492.02L889.15 491.87M898.83 483.26L898.99 483.12L899.24 482.91L899.49 482.70L899.74 482.49L899.99 482.27L900.24 482.06L900.49 481.85L900.66 481.71M912.17 472.59L912.34 472.46L912.60 472.26L912.87 472.07L913.13 471.87L913.40 471.67L913.66 471.48L913.93 471.28L914.10 471.16" stroke="#0065ad" stroke-width="4.80"/>
</g>
<g font-family="'Liberation Serif', serif" fill="#000">
<text transform="translate(128.70 1130.90) scale(1.0000 1.0500)" font-size="32.20" text-anchor="middle">10<tspan font-size="20.93" dy="-13.05">-1</tspan></text>
<text transform="translate(323.45 1130.90) scale(1.0000 1.0500)" font-size="32.20" text-anchor="middle">10<tspan font-size="20.93" dy="-13.05">0</tspan></text>
<text transform="translate(518.20 1130.90) scale(1.0000 1.0500)" font-size="32.20" text-anchor="middle">10<tspan font-size="20.93" dy="-13.05">1</tspan></text>
<text transform="translate(712.95 1130.90) scale(1.0000 1.0500)" font-size="32.20" text-anchor="middle">10<tspan font-size="20.93" dy="-13.05">2</tspan></text>
<text transform="translate(907.70 1130.90) scale(1.0000 1.0500)" font-size="32.20" text-anchor="middle">10<tspan font-size="20.93" dy="-13.05">3</tspan></text>
<text transform="translate(111.60 1005.80) scale(1.0000 1.0500)" font-size="32.20" text-anchor="end">10<tspan font-size="20.93" dy="-13.05">-2</tspan></text>
<text transform="translate(111.60 896.80) scale(1.0000 1.0500)" font-size="32.20" text-anchor="end">10<tspan font-size="20.93" dy="-13.05">-1</tspan></text>
<text transform="translate(111.60 787.80) scale(1.0000 1.0500)" font-size="32.20" text-anchor="end">10<tspan font-size="20.93" dy="-13.05">0</tspan></text>
<text transform="translate(111.60 678.80) scale(1.0000 1.0500)" font-size="32.20" text-anchor="end">10<tspan font-size="20.93" dy="-13.05">1</tspan></text>
<text transform="translate(111.60 569.80) scale(1.0000 1.0500)" font-size="32.20" text-anchor="end">10<tspan font-size="20.93" dy="-13.05">2</tspan></text>
<text transform="translate(111.60 460.80) scale(1.0000 1.0500)" font-size="32.20" text-anchor="end">10<tspan font-size="20.93" dy="-13.05">3</tspan></text>
<text transform="translate(634.10 1172.70) scale(1.0350 1.0250)" font-size="41.00" text-anchor="end">(MeV fm<tspan font-size="26.24" dy="-17.00">-3</tspan><tspan dy="17.00">)</tspan></text>
<text transform="translate(410.80 1172.70) scale(1.130 1.000)" font-size="41.00" stroke="#000" stroke-width="0.15">ε</text>
<text transform="translate(46.10 766.20) rotate(-90) scale(1.0420 1.0400)" font-size="41.00" text-anchor="middle">P (MeV fm<tspan font-size="26.24" dy="-17.00">-3</tspan><tspan dy="17.00">)</tspan></text>
<text transform="translate(215.20 580.70) scale(1.0000 1.0500)" font-size="32.20" text-anchor="start">NL3w03</text>
<text transform="translate(462.20 650.20) scale(1.0000 1.0500)" font-size="32.20" text-anchor="start">P</text>
<text transform="translate(646.80 694.10) scale(1.0000 1.0500)" font-size="32.20" text-anchor="start">80</text>
<text transform="translate(625.20 754.40) scale(1.0000 1.0500)" font-size="32.20" text-anchor="start">40</text>
<text transform="translate(605.70 811.40) scale(1.0000 1.0500)" font-size="32.20" text-anchor="start">20</text>
<text transform="translate(591.00 903.50) scale(1.0000 1.0500)" font-size="32.20" text-anchor="start">10</text>
<text transform="translate(754.10 969.60) scale(1.0000 1.0500)" font-size="32.20" text-anchor="start">T</text>
<text transform="translate(792.40 969.60) scale(1.0000 1.0500)" font-size="32.20" text-anchor="start">0MeV</text>
<text transform="translate(479.50 649.00) scale(1.1200 0.8900)" font-size="32.20" text-anchor="start">=</text>
<text transform="translate(772.10 968.40) scale(1.1200 0.8900)" font-size="32.20" text-anchor="start">=</text>
<text transform="translate(498.50 650.40) scale(1.100 1.000)" font-size="40.00" stroke="#000" stroke-width="0.15">ε</text>
</g>
</svg>
</body></html>
